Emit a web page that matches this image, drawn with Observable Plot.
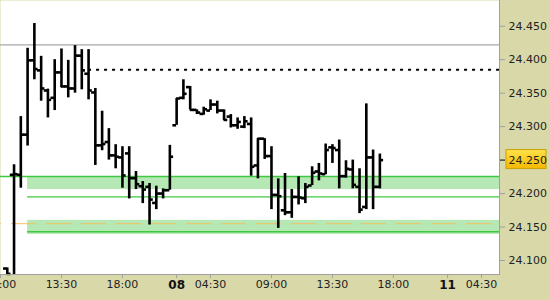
<!DOCTYPE html>
<html><head><meta charset="utf-8">
<script src="https://cdn.jsdelivr.net/npm/d3@7"></script>
<script src="https://cdn.jsdelivr.net/npm/@observablehq/plot@0.6"></script>
<style>html,body{margin:0;padding:0;background:#d9d8a9}#chart{width:550px;height:300px}</style>
</head><body><div id="chart"></div>
<script>
// 30-minute OHLC bars, bar index 1..56 (session bars, gaps removed)
const firstBar = 1;
const opens  = [24.088,24.228,24.228,24.288,24.399,24.384,24.354,24.343,24.381,24.360,24.357,24.406,24.379,24.351,24.272,24.277,24.257,24.254,24.260,24.223,24.211,24.210,24.186,24.200,24.205,24.302,24.343,24.359,24.325,24.319,24.324,24.333,24.324,24.315,24.302,24.300,24.304,24.242,24.282,24.256,24.198,24.175,24.172,24.195,24.193,24.212,24.233,24.229,24.269,24.265,24.226,24.236,24.210,24.180,24.254,24.210];
const highs  = [24.089,24.243,24.315,24.417,24.454,24.405,24.356,24.400,24.416,24.399,24.421,24.415,24.415,24.357,24.323,24.297,24.273,24.270,24.270,24.233,24.218,24.215,24.211,24.207,24.272,24.342,24.370,24.360,24.325,24.329,24.340,24.338,24.325,24.318,24.313,24.315,24.313,24.282,24.282,24.270,24.222,24.230,24.206,24.225,24.215,24.240,24.245,24.274,24.273,24.280,24.249,24.250,24.237,24.334,24.265,24.259];
const lows   = [24.070,24.070,24.208,24.271,24.370,24.338,24.313,24.324,24.358,24.343,24.350,24.355,24.340,24.242,24.264,24.250,24.237,24.208,24.192,24.206,24.185,24.153,24.176,24.192,24.205,24.302,24.340,24.325,24.318,24.317,24.324,24.319,24.309,24.298,24.296,24.297,24.226,24.222,24.251,24.176,24.148,24.167,24.163,24.183,24.185,24.212,24.219,24.228,24.245,24.207,24.223,24.207,24.170,24.176,24.176,24.207];
const closes = [24.080,24.229,24.288,24.399,24.386,24.357,24.340,24.381,24.360,24.357,24.406,24.384,24.354,24.272,24.274,24.257,24.255,24.227,24.223,24.214,24.206,24.191,24.200,24.205,24.255,24.342,24.349,24.325,24.321,24.326,24.333,24.324,24.310,24.302,24.307,24.308,24.240,24.282,24.256,24.198,24.196,24.172,24.195,24.194,24.210,24.231,24.230,24.265,24.268,24.226,24.237,24.213,24.176,24.254,24.210,24.250];

// x axis: bar index of each tick and its label
const tickIndex  = [0, 9, 18, 26, 31, 40, 49, 58, 66, 71];
const tickLabels = ["09:00","13:30","18:00","08","04:30","09:00","13:30","18:00","11","04:30"];
const dayLabels  = ["08","11"];

// y axis ticks
const yTicks = [24.10, 24.15, 24.20, 24.30, 24.35, 24.40, 24.45];
const lastPrice = 24.250;

// visible ranges
const xDomain = [0, 73.66];
const yDomain = [24.0791, 24.4884];

// levels
const grayLevel = 24.422;
const dotLevel = 24.385;
const dotStart = 13;
const zoneStart = 4;
const zones = [{lo: 24.206, hi: 24.2255}, {lo: 24.139, hi: 24.160}];
const greenLines = [{v: 24.2255, from: 0}, {v: 24.195, from: 4}, {v: 24.143, from: 4}];
const orangeLevel = 24.155;

const bars = opens.map((o, k) => ({i: firstBar + k, open: o, high: highs[k], low: lows[k], close: closes[k]}));
const labelOf = new Map(tickIndex.map((t, k) => [t, tickLabels[k]]));
const normalTicks = tickIndex.filter(t => !dayLabels.includes(labelOf.get(t)));
const dayTicks = tickIndex.filter(t => dayLabels.includes(labelOf.get(t)));
const xEnd = xDomain[1];
const fmt = d3.format(".3f");

const chart = Plot.plot({
  width: 550, height: 300,
  marginTop: 0, marginLeft: 0, marginRight: 51, marginBottom: 26,
  style: {background: "#d9d8a9", fontFamily: "DejaVu Sans", fontSize: "11px", color: "#222", overflow: "hidden"},
  x: {domain: xDomain, label: null},
  y: {domain: yDomain, label: null},
  marks: [
    Plot.frame({fill: "white"}),
    Plot.rect(zones, {x1: () => zoneStart, x2: () => xEnd, y1: "lo", y2: "hi", fill: "#b5e8b5"}),
    Plot.ruleY(greenLines, {y: "v", x1: d => d.from, x2: () => xEnd, stroke: "#40c840", strokeWidth: 1.4}),
    Plot.ruleY([orangeLevel], {x1: () => 0, x2: () => xEnd, stroke: "#f0c060", strokeWidth: 1, strokeDasharray: "25,10", strokeDashoffset: 24}),
    Plot.ruleY([grayLevel], {x1: () => 0, x2: () => xEnd, stroke: "#a8a8a8", strokeWidth: 1.2}),
    Plot.ruleY([dotLevel], {x1: () => dotStart, x2: () => xEnd, stroke: "black", strokeWidth: 2, strokeDasharray: "3,5"}),
    Plot.ruleX(bars, {x: "i", y1: "low", y2: "high", stroke: "black", strokeWidth: 2.6, clip: true}),
    Plot.ruleY(bars, {y: "open", x1: d => d.i - 0.55, x2: d => d.i, stroke: "black", strokeWidth: 2.6}),
    Plot.ruleY(bars, {y: "close", x1: d => d.i, x2: d => d.i + 0.55, stroke: "black", strokeWidth: 2.6}),
    Plot.frame({anchor: "right", stroke: "#a0a0a0"}),
    Plot.frame({anchor: "bottom", stroke: "#a0a0a0"}),
    Plot.axisX(normalTicks, {label: null, tickFormat: t => labelOf.get(t), tickSize: 4, tickPadding: 2, stroke: "#a0a0a0", fill: "#222"}),
    Plot.axisX(dayTicks, {label: null, tickFormat: t => labelOf.get(t), tickSize: 4, tickPadding: 2, stroke: "#a0a0a0", fill: "#111", fontWeight: "bold", fontSize: 12}),
    Plot.axisY(yTicks, {label: null, anchor: "right", tickFormat: fmt, tickSize: 5, tickPadding: 4, stroke: "#a0a0a0", fill: "#222"}),
    Plot.axisY([lastPrice], {label: null, anchor: "right", tickFormat: () => "", tickSize: 5, stroke: "black"}),
    Plot.rect([lastPrice], {y1: d => d, y2: d => d, insetLeft: 506, insetRight: -47, insetTop: -10, insetBottom: -9, fill: "url(#priceGrad)", stroke: "#c8a000", strokeWidth: 1}),
    Plot.text([lastPrice], {y: d => d, frameAnchor: "right", dx: 9, textAnchor: "start", text: d => fmt(d), fill: "#222"})
  ]
});

const defs = d3.select(chart).insert("defs", ":first-child");
const g = defs.append("linearGradient").attr("id", "priceGrad").attr("x1", 0).attr("y1", 0).attr("x2", 0).attr("y2", 1);
g.append("stop").attr("offset", "0%").attr("stop-color", "#ffe24a");
g.append("stop").attr("offset", "100%").attr("stop-color", "#f5b800");

document.getElementById("chart").append(chart);
</script>
</body></html>
